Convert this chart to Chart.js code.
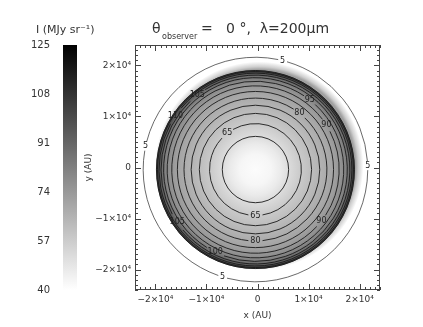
<!DOCTYPE html>
<html>
<head>
<meta charset="utf-8">
<script src="https://cdn.jsdelivr.net/npm/chart.js@4.4.0/dist/chart.umd.min.js"></script>
<style>
  html, body { margin: 0; padding: 0; background: #fff; }
  canvas { display: block; }
</style>
</head>
<body>
<canvas id="mapChart" width="423" height="327"></canvas>
<script>
// axis ticks (AU)
const xTickValues = [-20000, -10000, 0, 10000, 20000];
const yTickValues = [-20000, -10000, 0, 10000, 20000];
// colour bar ticks (MJy/sr)
const cbTickValues = [40, 57, 74, 91, 108, 125];

// disc centre (AU)
const discCentre = [-400, -400];
// radial intensity profile of the disc
const profileR = [0, 3000, 5000, 7000, 9000, 11000, 13000, 15000, 16500, 17500, 18300, 18900, 19300, 19450];
const profileI = [41, 43, 47, 53, 58, 62, 66, 70, 75, 80, 88, 97, 104, 106];
// soft halo on the upper right side
const haloCentre = [350, 350];
const haloR = [0, 18800, 19400, 20400];
const haloI = [72, 72, 56, 40];

// contour levels and their radii (AU)
const contourLevels = [60, 65, 70, 75, 80, 85, 90, 95, 100, 105, 110, 115, 120];
const contourRadii = [6500, 9000, 11000, 12600, 14000, 15300, 16400, 17300, 18000, 18500, 18900, 19200, 19400];
const outerLevel = 5;
const outerRadius = 22000;

// where the contour labels sit (degrees, counter-clockwise from +x)
const labelSpots = [
  { level: 65, deg: 128 }, { level: 65, deg: 270 },
  { level: 80, deg: 52 }, { level: 80, deg: 270 },
  { level: 95, deg: 52 }, { level: 105, deg: 128 }, { level: 110, deg: 146 },
  { level: 90, deg: 32 }, { level: 90, deg: 322 },
  { level: 100, deg: 244 }, { level: 105, deg: 214 },
  { level: 5, deg: 76 }, { level: 5, deg: 168 }, { level: 5, deg: 253 }, { level: 5, deg: 2 }
];

const FONT = '"DejaVu Sans", sans-serif';
const INK = '#333';

function grey(I) {
  const g = Math.round(255 * (125 - I) / 85);
  const c = Math.max(0, Math.min(255, g));
  return 'rgb(' + c + ',' + c + ',' + c + ')';
}

function tickText(v) {
  if (v === 0) return '0';
  const m = v / 10000;
  return (m < 0 ? '\u2212' + (-m) : m) + '\u00d710\u2074';
}

function radialDisc(ctx, x, y, centre, rs, is) {
  const cx = x.getPixelForValue(centre[0]);
  const cy = y.getPixelForValue(centre[1]);
  const R = x.getPixelForValue(centre[0] + rs[rs.length - 1]) - cx;
  const g = ctx.createRadialGradient(cx, cy, 0, cx, cy, R);
  rs.forEach((r, i) => g.addColorStop(r / rs[rs.length - 1], grey(is[i])));
  ctx.fillStyle = g;
  ctx.beginPath();
  ctx.arc(cx, cy, R, 0, Math.PI * 2);
  ctx.fill();
}

function drawContour(ctx, x, y, level, radius) {
  const cx = x.getPixelForValue(discCentre[0]);
  const cy = y.getPixelForValue(discCentre[1]);
  const R = x.getPixelForValue(discCentre[0] + radius) - cx;
  ctx.font = '8px ' + FONT;
  const spots = labelSpots.filter(s => s.level === level);
  const gaps = spots.map(s => {
    const half = (ctx.measureText(String(level)).width / 2 + 2) / R;
    const a = -s.deg * Math.PI / 180;
    return [a - half, a + half, a];
  }).sort((p, q) => p[0] - q[0]);
  ctx.beginPath();
  if (!gaps.length) {
    ctx.arc(cx, cy, R, 0, Math.PI * 2);
  } else {
    for (let i = 0; i < gaps.length; i++) {
      const start = gaps[i][1];
      const end = i + 1 < gaps.length ? gaps[i + 1][0] : gaps[0][0] + Math.PI * 2;
      ctx.moveTo(cx + R * Math.cos(start), cy + R * Math.sin(start));
      ctx.arc(cx, cy, R, start, end);
    }
  }
  ctx.stroke();
  ctx.fillStyle = '#222';
  ctx.textAlign = 'center';
  ctx.textBaseline = 'middle';
  gaps.forEach(gp => {
    ctx.fillText(String(level), cx + R * Math.cos(gp[2]), cy + R * Math.sin(gp[2]));
  });
}

const mapPlugin = {
  id: 'mapPlugin',
  beforeDatasetsDraw(chart) {
    const { ctx, chartArea: a, scales: { x, y } } = chart;
    ctx.save();
    ctx.beginPath();
    ctx.rect(a.left, a.top, a.right - a.left, a.bottom - a.top);
    ctx.clip();
    radialDisc(ctx, x, y, haloCentre, haloR, haloI);
    radialDisc(ctx, x, y, discCentre, profileR, profileI);
    ctx.strokeStyle = '#1a1a1a';
    ctx.lineWidth = 0.9;
    contourLevels.forEach((lv, i) => drawContour(ctx, x, y, lv, contourRadii[i]));
    ctx.strokeStyle = '#444';
    ctx.lineWidth = 0.8;
    drawContour(ctx, x, y, outerLevel, outerRadius);
    ctx.restore();
  },
  afterDraw(chart) {
    const { ctx, chartArea: a, scales: { x, y, cb } } = chart;
    ctx.save();
    // frame with inward ticks
    ctx.strokeStyle = '#444';
    ctx.lineWidth = 1;
    ctx.strokeRect(a.left + 0.5, a.top + 0.5, a.right - a.left - 1, a.bottom - a.top - 1);
    ctx.beginPath();
    for (let v = -24000; v <= 24000; v += 1000) {
      const len = v % 10000 === 0 ? 6 : 3;
      const px = Math.round(x.getPixelForValue(v)) + 0.5;
      const py = Math.round(y.getPixelForValue(v)) + 0.5;
      ctx.moveTo(px, a.bottom); ctx.lineTo(px, a.bottom - len);
      ctx.moveTo(px, a.top); ctx.lineTo(px, a.top + len);
      ctx.moveTo(a.left, py); ctx.lineTo(a.left + len, py);
      ctx.moveTo(a.right, py); ctx.lineTo(a.right - len, py);
    }
    ctx.stroke();

    // colour bar
    const top = cb.getPixelForValue(cbTickValues[cbTickValues.length - 1]);
    const bot = cb.getPixelForValue(cbTickValues[0]);
    const x1 = cb.right - 3, x0 = x1 - 14;
    const g = ctx.createLinearGradient(0, top, 0, bot);
    g.addColorStop(0, grey(125));
    g.addColorStop(1, grey(40));
    ctx.fillStyle = g;
    ctx.fillRect(x0, top, x1 - x0, bot - top);

    // titles
    ctx.fillStyle = INK;
    ctx.textBaseline = 'middle';
    ctx.textAlign = 'left';
    ctx.font = '11px ' + FONT;
    ctx.fillText('I (MJy sr\u207b\u00b9)', 36, 30);
    ctx.font = '14px ' + FONT;
    ctx.fillText('\u03b8', 152, 29);
    ctx.font = '8px ' + FONT;
    ctx.fillText('observer', 162, 37);
    ctx.font = '14px ' + FONT;
    ctx.fillText('=   0 \u00b0,  \u03bb=200\u03bcm', 201, 29);
    ctx.restore();
  }
};

new Chart(document.getElementById('mapChart'), {
  type: 'scatter',
  data: { datasets: [] },
  options: {
    responsive: false,
    animation: false,
    layout: { padding: { top: 45, right: 43, bottom: 0, left: 0 } },
    plugins: { legend: { display: false }, tooltip: { enabled: false } },
    scales: {
      x: {
        type: 'linear', min: -24000, max: 24000,
        afterBuildTicks: s => { s.ticks = xTickValues.map(v => ({ value: v })); },
        afterFit: s => { s.height = 37; },
        grid: { display: false, drawTicks: false },
        border: { display: false },
        ticks: { padding: 4, color: INK, font: { family: FONT, size: 9 }, callback: v => tickText(v) },
        title: { display: true, text: 'x (AU)', color: INK, font: { family: FONT, size: 9 }, padding: { top: 0, bottom: 6 } }
      },
      y: {
        type: 'linear', min: -24000, max: 24000, position: 'left', weight: 0,
        afterBuildTicks: s => { s.ticks = yTickValues.map(v => ({ value: v })); },
        afterFit: s => { s.width = 55; },
        grid: { display: false, drawTicks: false },
        border: { display: false },
        ticks: { padding: 4, color: INK, font: { family: FONT, size: 9 }, callback: v => tickText(v) },
        title: { display: true, text: 'y (AU)', color: INK, font: { family: FONT, size: 9 }, padding: { top: 3, bottom: 0 } }
      },
      cb: {
        type: 'linear', axis: 'y', position: 'left', weight: 1, min: 40, max: 125,
        afterBuildTicks: s => { s.ticks = cbTickValues.map(v => ({ value: v })); },
        afterFit: s => { s.width = 80; },
        grid: { display: false, drawTicks: false },
        border: { display: false },
        ticks: { padding: 30, color: INK, font: { family: FONT, size: 10 } }
      }
    }
  },
  plugins: [mapPlugin]
});
</script>
</body>
</html>
